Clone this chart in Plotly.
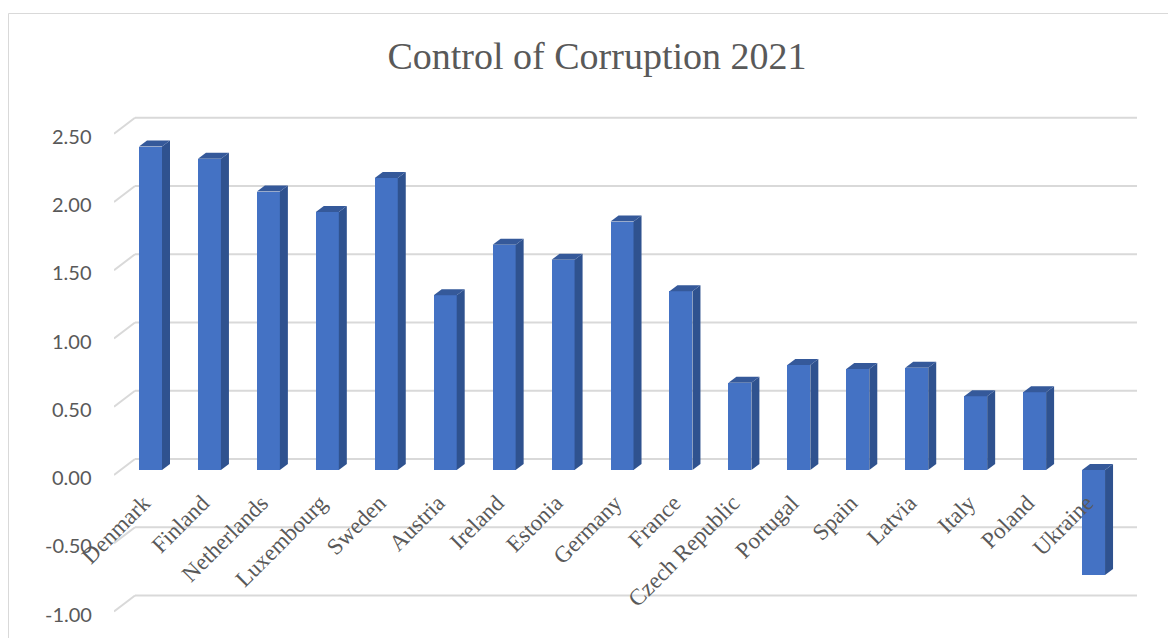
import plotly.graph_objects as go

# ---- data ----
countries = ["Denmark", "Finland", "Netherlands", "Luxembourg", "Sweden", "Austria",
             "Ireland", "Estonia", "Germany", "France", "Czech Republic", "Portugal",
             "Spain", "Latvia", "Italy", "Poland", "Ukraine"]
scores = [2.37, 2.28, 2.04, 1.89, 2.14, 1.28, 1.65, 1.54, 1.82, 1.31,
          0.64, 0.77, 0.74, 0.75, 0.54, 0.57, -0.77]
y_ticks = [-1.0, -0.5, 0.0, 0.5, 1.0, 1.5, 2.0, 2.5]
y_ticktext = [f"{v:.2f}" for v in y_ticks]
title_text = "Control of Corruption 2021"

# ---- geometry / style (pixels, in screen coords; page body has an 8px margin) ----
OFF = 8
W, H = 1176 - OFF, 638 - OFF
L, R, T, B = 114 - OFF, 1140 - OFF, 100 - OFF, 620 - OFF
X0PX, PITCH = 150.5 - OFF, 58.94      # pixel of first category, pixels per category
Y0PX, SCALE = 470 - OFF, 136.5        # pixel of value 0, pixels per unit
x_range = [(L - X0PX) / PITCH, (R - X0PX) / PITCH]
y_range = [(Y0PX - B) / SCALE, (Y0PX - T) / SCALE]
BW = 23 / PITCH                  # bar front width in category units
DX, DY = 8 / PITCH, 6 / SCALE    # bar depth
WALL_DX_FRONT = (114 - OFF - X0PX) / PITCH
WALL_DX_BACK = (135 - OFF - X0PX) / PITCH
WALL_X_END = (1137 - OFF - X0PX) / PITCH
FRONT_DY = -5 / SCALE
BACK_DY = 11 / SCALE
pw, ph = R - L, B - T
YLABEL_RIGHT = (91 - OFF - L) / pw     # right edge of value labels (paper units)
YLABEL_SHIFT = -7                      # labels sit on the front plane (px)

FRONT = "#4472C4"
SIDE = "#2F528F"
TOP = "#35599A"
GRID = "#D9D9D9"
TXT = "#595959"

xs = list(range(len(countries)))

fig = go.Figure()

# front faces
fig.add_trace(go.Bar(x=xs, y=scores, width=BW, marker=dict(color=FRONT, line=dict(width=0)),
                     hoverinfo="skip", showlegend=False))

# side and top faces
sx, sy = [], []
tx, ty = [], []
for i, v in zip(xs, scores):
    xr = i + BW / 2
    sx += [xr, xr + DX, xr + DX, xr, xr, None]
    sy += [0, DY, v + DY, v, 0, None]
    top = max(v, 0)
    xl = i - BW / 2
    tx += [xl, xr, xr + DX, xl + DX, xl, None]
    ty += [top, top, top + DY, top + DY, top, None]

fig.add_trace(go.Scatter(x=sx, y=sy, mode="lines", fill="toself", fillcolor=SIDE,
                         line=dict(width=0, color=SIDE), hoverinfo="skip", showlegend=False))
fig.add_trace(go.Scatter(x=tx, y=ty, mode="lines", fill="toself", fillcolor=TOP,
                         line=dict(width=0, color=TOP), hoverinfo="skip", showlegend=False))

# back wall gridlines and side-wall diagonals
shapes = []
for v in y_ticks:
    shapes.append(dict(type="line", xref="x", yref="y", layer="below",
                       x0=WALL_DX_BACK, x1=WALL_X_END, y0=v + BACK_DY, y1=v + BACK_DY,
                       line=dict(color=GRID, width=2)))
    shapes.append(dict(type="line", xref="x", yref="y", layer="below",
                       x0=WALL_DX_FRONT, x1=WALL_DX_BACK, y0=v + FRONT_DY, y1=v + BACK_DY,
                       line=dict(color=GRID, width=2)))
# outer chart border
bx, by = 8 - OFF, 13 - OFF
shapes.append(dict(type="path", xref="paper", yref="paper", layer="below",
                   path=f"M {(bx + 0.5 - L) / pw},{(B - 700) / ph} L {(bx + 0.5 - L) / pw},{(B - by - 0.5) / ph} "
                        f"L {(1200 - L) / pw},{(B - by - 0.5) / ph}",
                   line=dict(color=GRID, width=1)))

# value-axis labels (front plane)
annotations = [dict(text=t, xref="paper", x=YLABEL_RIGHT, xanchor="right", xshift=3,
                    yref="y", y=v, yshift=YLABEL_SHIFT, yanchor="middle",
                    showarrow=False, font=dict(family="Lato", size=20, color=TXT))
               for v, t in zip(y_ticks, y_ticktext)]

fig.update_layout(
    width=W, height=H,
    margin=dict(l=L, r=W - R, t=T, b=H - B),
    paper_bgcolor="white", plot_bgcolor="white",
    shapes=shapes,
    annotations=annotations,
    bargap=0,
    title=dict(text=title_text, x=(597 - OFF) / W, xanchor="center", xref="container",
               y=1 - (56 - OFF) / H, yanchor="middle", yref="container",
               font=dict(family="Liberation Serif", size=38, color=TXT)),
    xaxis=dict(range=x_range, tickvals=xs, ticktext=countries, tickangle=-45,
               anchor="free", position=(B - (484 - OFF)) / (B - T),
               showgrid=False, zeroline=False, showline=False, ticks="",
               ticklabelshift=-7,
               tickfont=dict(family="Liberation Serif", size=23, color=TXT)),
    yaxis=dict(range=y_range, showticklabels=False,
               showgrid=False, zeroline=False, showline=False, ticks=""),
)

fig.write_html("out.html")
